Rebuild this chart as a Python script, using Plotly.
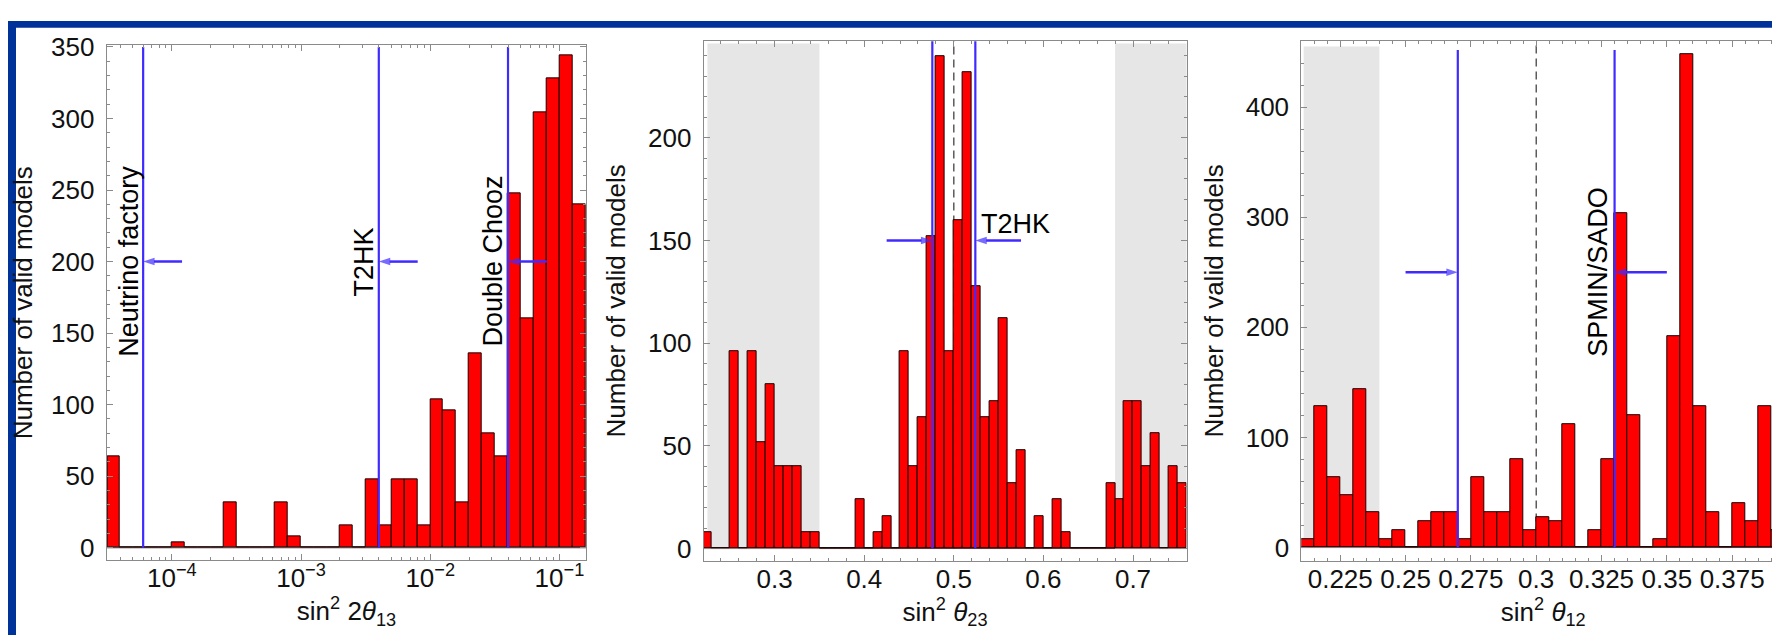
import math
import plotly.graph_objects as go

W, H = 1780, 635

# ---------------- data ----------------
# Panel 1: sin^2(2 theta13), logarithmic bins (log10 lower edge, log10 width)
t13_log_start = -4.5
t13_log_step = 0.1
t13_counts = [64, 0, 0, 0, 0, 4, 0, 0, 0, 32, 0, 0, 0, 32, 8, 0, 0, 0, 16, 0,
              48, 16, 48, 48, 16, 104, 96, 32, 136, 80, 64, 248, 160, 304, 328, 344, 240]
t13_lines = [6e-5, 4e-3, 0.04]
t13_line_labels = ["Neutrino factory", "T2HK", "Double Chooz"]
t13_arrow_tails = [1.2e-4, 8e-3, 0.08]
t13_arrow_y = 200
t13_line_top = 350

# Panel 2: sin^2(theta23)
t23_start = 0.22
t23_step = 0.01
t23_counts = [8, 0, 0, 96, 0, 96, 52, 80, 40, 40, 40, 8, 8, 0, 0, 0, 0, 24, 0, 8,
              16, 0, 96, 40, 64, 152, 240, 96, 160, 232, 128, 64, 72, 112, 32, 48, 0, 16, 0, 24,
              8, 0, 0, 0, 0, 32, 24, 72, 72, 40, 56, 0, 40, 32]
t23_lines = [0.476, 0.524]
t23_arrow_tails = [0.425, 0.575]
t23_arrow_y = 150
t23_label = "T2HK"
t23_label_pos = (0.528, 158)
t23_center = 0.5
t23_excluded = [(0.225, 0.35), (0.68, 0.77)]
t23_excl_top = 246

# Panel 3: sin^2(theta12)
t12_start = 0.21
t12_step = 0.005
t12_counts = [8, 128, 64, 48, 144, 32, 8, 16, 0, 24, 32, 32, 8, 64, 32, 32, 80, 16, 28, 24,
              112, 0, 16, 80, 304, 120, 0, 8, 192, 448, 128, 32, 0, 40, 24, 128, 16]
t12_lines = [0.27, 0.33]
t12_arrow_tails = [0.25, 0.35]
t12_arrow_y = 250
t12_label = "SPMIN/SADO"
t12_center = 0.3
t12_excluded = [(0.211, 0.24)]
t12_excl_top = 455
t12_line_top = 452

x13_ticks = [1e-4, 1e-3, 1e-2, 1e-1]
x13_ticktext = ["10<sup>−4</sup>", "10<sup>−3</sup>", "10<sup>−2</sup>", "10<sup>−1</sup>"]
x12_ticks = [0.225, 0.25, 0.275, 0.3, 0.325, 0.35, 0.375]
x12_ticktext = ["0.225", "0.25", "0.275", "0.3", "0.325", "0.35", "0.375"]

# ---------------- style ----------------
FONT = "Liberation Sans, Arial, Helvetica, sans-serif"
RED = "#ff0000"
BLUE = "#3f2bff"
FRAME = "#8a8a8a"
NAVY = "#003399"
GRAYFILL = "#e6e6e6"
FS = 26
FS_LAB = 27


def px_x(p):
    return p / W


def px_y(p):
    return 1 - p / H


fig = go.Figure()

# ---- bars ----
def add_bars(centers, counts, width, xa, ya):
    fig.add_trace(go.Bar(
        x=centers, y=counts, width=width, xaxis=xa, yaxis=ya,
        marker=dict(color=RED, line=dict(color="#1a0000", width=1)),
        showlegend=False, hoverinfo="x+y"))

c13 = [t13_log_start + t13_log_step * (i + 0.5) for i in range(len(t13_counts))]
add_bars(c13, t13_counts, t13_log_step, "x", "y")
c23 = [t23_start + t23_step * (i + 0.5) for i in range(len(t23_counts))]
add_bars(c23, t23_counts, t23_step, "x2", "y2")
c12 = [t12_start + t12_step * (i + 0.5) for i in range(len(t12_counts))]
add_bars(c12, t12_counts, t12_step, "x3", "y3")

# ---- vertical blue lines ----
def add_vline(xv, top, xa, ya):
    fig.add_trace(go.Scatter(x=[xv, xv], y=[0, top], mode="lines", xaxis=xa, yaxis=ya,
                             line=dict(color=BLUE, width=2.2), showlegend=False, hoverinfo="skip"))

for v in t13_lines:
    add_vline(math.log10(v), t13_line_top, "x", "y")
for v in t23_lines:
    add_vline(v, 260, "x2", "y2")
for v in t12_lines:
    add_vline(v, t12_line_top, "x3", "y3")

# ---- arrows (line + arrow head whose tip sits on the line) ----
def add_arrow(xhead, xtail, yv, xa, ya):
    fig.add_trace(go.Scatter(x=[xtail, xhead], y=[yv, yv], mode="lines+markers", xaxis=xa, yaxis=ya,
                             line=dict(color=BLUE, width=2.5),
                             marker=dict(symbol="arrow", angleref="previous", size=[0, 12],
                                         color=BLUE, line=dict(width=0)),
                             showlegend=False, hoverinfo="skip", cliponaxis=False))

for v, t in zip(t13_lines, t13_arrow_tails):
    add_arrow(math.log10(v), math.log10(t), t13_arrow_y, "x", "y")
for v, t in zip(t23_lines, t23_arrow_tails):
    add_arrow(v, t, t23_arrow_y, "x2", "y2")
for v, t in zip(t12_lines, t12_arrow_tails):
    add_arrow(v, t, t12_arrow_y, "x3", "y3")

shapes = []
# excluded (gray) regions
for a, b in t23_excluded:
    shapes.append(dict(type="rect", xref="x2", yref="y2", x0=a, x1=b, y0=0, y1=t23_excl_top,
                       fillcolor=GRAYFILL, line=dict(width=0), layer="below"))
for a, b in t12_excluded:
    shapes.append(dict(type="rect", xref="x3", yref="y3", x0=a, x1=b, y0=0, y1=t12_excl_top,
                       fillcolor=GRAYFILL, line=dict(width=0), layer="below"))
# dashed central lines
shapes.append(dict(type="line", xref="x2", yref="y2", x0=t23_center, x1=t23_center, y0=0, y1=260,
                   line=dict(color="#333333", width=1.2, dash="8px,5px"), layer="below"))
shapes.append(dict(type="line", xref="x3", yref="y3", x0=t12_center, x1=t12_center, y0=0, y1=470,
                   line=dict(color="#333333", width=1.2, dash="8px,5px"), layer="below"))
# zero baselines
for xr, yr in [("x", "y"), ("x2", "y2"), ("x3", "y3")]:
    shapes.append(dict(type="line", xref=xr + " domain", yref=yr, x0=0, x1=1, y0=0, y1=0,
                       line=dict(color="#5a3a3a", width=1), layer="below"))
# navy frame bands (slide background)
shapes.append(dict(type="rect", xref="paper", yref="paper", x0=0, x1=px_x(8), y0=0, y1=1,
                   fillcolor=NAVY, line=dict(width=0), layer="above"))
shapes.append(dict(type="rect", xref="paper", yref="paper", x0=0, x1=1, y0=px_y(7), y1=1,
                   fillcolor=NAVY, line=dict(width=0), layer="above"))

annotations = []
# rotated labels next to lines
for v, lab in zip(t13_lines, t13_line_labels):
    annotations.append(dict(x=math.log10(v), y=t13_arrow_y, xref="x", yref="y", text=lab,
                            textangle=-90, showarrow=False, xanchor="center", yanchor="middle",
                            xshift=-15, font=dict(family=FONT, size=FS_LAB, color="black")))
annotations.append(dict(x=t12_lines[1], y=t12_arrow_y, xref="x3", yref="y3", text=t12_label,
                        textangle=-90, showarrow=False, xanchor="center", yanchor="middle",
                        xshift=-16, font=dict(family=FONT, size=FS_LAB, color="black")))
annotations.append(dict(x=t23_label_pos[0], y=t23_label_pos[1], xref="x2", yref="y2", text=t23_label,
                        showarrow=False, xanchor="left", yanchor="middle",
                        font=dict(family=FONT, size=FS_LAB, color="black")))

fig.update_layout(shapes=shapes, annotations=annotations)

# ---------------- axes ----------------
common = dict(showline=True, linecolor=FRAME, linewidth=1, mirror="ticks", ticks="inside",
              ticklen=6, tickwidth=1, tickcolor=FRAME, showgrid=False, zeroline=False,
              tickfont=dict(family=FONT, size=FS, color="#111111"),
              title_font=dict(family=FONT, size=FS, color="#111111"), fixedrange=True)
xcommon = dict(common, ticklabelstandoff=-5)
ycommon = dict(common, ticklabelstandoff=6)

minor13 = []
for e in range(-5, 0):
    for m in range(2, 10):
        lv = math.log10(m) + e
        if -4.504 < lv < -0.792:
            minor13.append(lv)

ydom1 = [px_y(553), px_y(25)]
ydom2 = [px_y(553.5), px_y(20.7)]

fig.update_layout(
    width=W, height=H, margin=dict(l=0, r=0, t=0, b=0),
    paper_bgcolor="white", plot_bgcolor="rgba(0,0,0,0)", bargap=0,
    font=dict(family=FONT, size=FS, color="black"),
    xaxis=dict(xcommon, domain=[px_x(98.7), px_x(578.3)], range=[-4.504, -0.792], anchor="y",
               tickmode="array", tickvals=[math.log10(v) for v in x13_ticks], ticktext=x13_ticktext,
               minor=dict(ticks="inside", ticklen=3, tickcolor=FRAME, tickmode="array", tickvals=minor13),
               title=dict(text="sin<sup>2</sup> 2<i>θ</i><sub>13</sub>", standoff=8)),
    yaxis=dict(ycommon, domain=ydom1, range=[-8.6, 351.1], anchor="x", dtick=50, tick0=0,
               minor=dict(ticks="inside", ticklen=3, tickcolor=FRAME, dtick=10),
               title=dict(text="Number of valid models", standoff=14)),
    xaxis2=dict(xcommon, domain=[px_x(695.6), px_x(1178.5)], range=[0.2207, 0.7597], anchor="y2",
                dtick=0.1, tick0=0,
                minor=dict(ticks="inside", ticklen=3, tickcolor=FRAME, dtick=0.02, tick0=0),
                title=dict(text="sin<sup>2</sup> <i>θ</i><sub>23</sub>", standoff=8)),
    yaxis2=dict(ycommon, domain=ydom2, range=[-5.84, 247.1], anchor="x2", dtick=50, tick0=0,
                minor=dict(ticks="inside", ticklen=3, tickcolor=FRAME, dtick=10),
                title=dict(text="Number of valid models", standoff=14)),
    xaxis3=dict(xcommon, domain=[px_x(1293.3), px_x(1777.2)], range=[0.2101, 0.3953], anchor="y3",
                tickmode="array", tickvals=x12_ticks, ticktext=x12_ticktext,
                minor=dict(ticks="inside", ticklen=3, tickcolor=FRAME, dtick=0.005, tick0=0),
                title=dict(text="sin<sup>2</sup> <i>θ</i><sub>12</sub>", standoff=8)),
    yaxis3=dict(ycommon, domain=ydom2, range=[-11.8, 459.9], anchor="x3", dtick=100, tick0=0,
                minor=dict(ticks="inside", ticklen=3, tickcolor=FRAME, dtick=20),
                title=dict(text="Number of valid models", standoff=14)),
)

fig.write_html("out.html")
